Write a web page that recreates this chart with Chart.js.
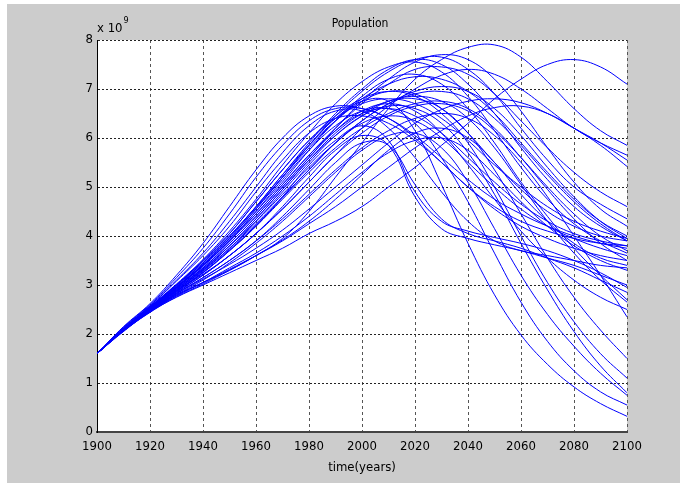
<!DOCTYPE html>
<html><head><meta charset="utf-8">
<script src="https://cdn.jsdelivr.net/npm/chart.js@4/dist/chart.umd.min.js"></script>
<style>html,body{margin:0;padding:0;background:#fff;}canvas{display:block;}</style>
</head><body>
<canvas id="c" width="680" height="483"></canvas>
<script>
// x values (years) and y tick labels (units of 10^9)
const years = [1900,1910,1920,1930,1940,1950,1960,1970,1980,1990,2000,2010,2020,2030,2040,2050,2060,2070,2080,2090,2100];
const xTicks = [1900,1920,1940,1960,1980,2000,2020,2040,2060,2080,2100];
const yTicks = [0,1,2,3,4,5,6,7,8];

// simulated population runs (x 10^9), one value per decade
const runE1 = [1.6,2.15,2.62,3.2,3.85,4.6,5.35,6.0,6.45,6.65,6.6,6.4,6.05,5.6,5.15,4.75,4.45,4.2,4.0,3.85,3.75];
const runE2 = [1.6,2.14,2.6,3.15,3.75,4.45,5.2,5.85,6.35,6.6,6.6,6.4,6.0,5.5,5.0,4.55,4.2,3.95,3.75,3.6,3.5];
const runE3 = [1.6,2.13,2.58,3.1,3.65,4.3,5.0,5.7,6.25,6.55,6.55,6.2,5.6,4.9,4.3,3.9,3.7,3.6,3.5,3.4,3.35];
const runE4 = [1.6,2.12,2.57,3.08,3.6,4.2,4.9,5.55,6.1,6.4,6.45,6.3,5.95,5.5,5.0,4.6,4.3,4.1,3.95,3.85,3.8];
const runM1 = [1.6,2.1,2.55,3.0,3.5,4.05,4.7,5.35,5.95,6.4,6.7,6.8,6.7,6.4,5.95,5.45,5.0,4.6,4.3,4.1,3.95];
const runM2 = [1.6,2.1,2.54,2.98,3.45,4.0,4.6,5.25,5.85,6.35,6.75,6.95,6.9,6.6,6.1,5.5,4.95,4.5,4.2,4.0,3.9];
const runM3 = [1.6,2.1,2.53,2.95,3.4,3.9,4.45,5.05,5.65,6.15,6.5,6.6,6.45,6.1,5.6,5.1,4.65,4.3,4.05,3.9,3.8];
const runM4 = [1.6,2.09,2.52,2.93,3.35,3.85,4.4,5.0,5.6,6.15,6.55,6.7,6.55,6.1,5.45,4.75,4.1,3.55,3.1,2.75,2.5];
const runM5 = [1.6,2.09,2.51,2.92,3.33,3.8,4.3,4.85,5.4,5.9,6.3,6.45,6.35,6.0,5.5,5.0,4.55,4.2,3.95,3.75,3.6];
const runM6 = [1.6,2.1,2.53,2.96,3.42,3.95,4.55,5.2,5.85,6.4,6.75,6.75,6.15,5.05,3.85,2.8,1.98,1.38,0.92,0.58,0.32];
const runM7 = [1.6,2.1,2.52,2.94,3.38,3.9,4.5,5.15,5.75,6.25,6.55,6.6,6.3,5.6,4.7,3.65,2.65,1.85,1.25,0.82,0.55];
const runM8 = [1.6,2.09,2.5,2.9,3.3,3.75,4.3,4.9,5.5,6.05,6.45,6.65,6.6,6.3,5.7,4.85,3.85,2.9,2.05,1.35,0.8];
const runM9 = [1.6,2.1,2.55,3.0,3.5,4.05,4.7,5.35,5.95,6.45,6.8,6.95,6.85,6.5,5.9,5.0,4.0,3.05,2.25,1.6,1.1];
const runM10 = [1.6,2.08,2.5,2.9,3.32,3.8,4.35,4.95,5.55,6.1,6.5,6.75,6.8,6.6,6.1,5.35,4.45,3.55,2.75,2.08,1.5];
const runD1 = [1.6,2.08,2.48,2.85,3.2,3.6,4.05,4.6,5.2,5.75,6.05,5.85,4.8,4.15,3.95,3.82,3.7,3.55,3.4,3.2,3.0];
const runD2 = [1.6,2.08,2.47,2.83,3.15,3.5,3.9,4.4,4.95,5.5,5.9,5.85,5.05,4.35,4.05,3.9,3.75,3.55,3.35,3.1,2.85];
const runD3 = [1.6,2.09,2.5,2.88,3.25,3.7,4.2,4.8,5.45,5.95,6.25,5.95,4.9,4.3,4.1,3.97,3.85,3.7,3.5,3.25,2.95];
const runH1 = [1.6,2.1,2.55,3.0,3.48,4.0,4.6,5.25,5.9,6.5,7.0,7.4,7.6,7.5,7.1,6.5,5.8,5.15,4.6,4.2,3.9];
const runH2 = [1.6,2.09,2.53,2.97,3.42,3.95,4.55,5.2,5.85,6.45,6.95,7.35,7.6,7.65,7.4,6.9,6.2,5.55,5.0,4.65,4.35];
const runH3 = [1.6,2.1,2.56,3.02,3.52,4.1,4.75,5.45,6.1,6.7,7.15,7.45,7.55,7.35,6.85,6.15,5.4,4.75,4.25,3.9,3.65];
const runH4 = [1.6,2.08,2.5,2.92,3.35,3.85,4.4,5.0,5.6,6.2,6.75,7.2,7.55,7.7,7.6,7.2,6.55,5.8,5.1,4.55,4.2];
const runH5 = [1.6,2.09,2.52,2.95,3.4,3.92,4.5,5.1,5.75,6.35,6.85,7.2,7.3,7.1,6.6,5.9,5.1,4.4,3.75,3.2,2.7];
const runH6 = [1.6,2.1,2.55,3.0,3.45,3.98,4.58,5.2,5.8,6.35,6.8,7.1,7.25,7.2,6.95,6.5,5.9,5.3,4.75,4.3,4.0];
const runH7 = [1.6,2.09,2.52,2.95,3.4,3.9,4.45,5.05,5.65,6.2,6.7,7.1,7.4,7.45,7.3,6.9,6.35,5.8,5.3,4.9,4.6];
const runN1 = [1.6,2.08,2.49,2.88,3.28,3.75,4.25,4.8,5.35,5.9,6.35,6.7,6.9,6.95,6.8,6.4,5.85,5.25,4.7,4.25,3.9];
const runN2 = [1.6,2.07,2.48,2.86,3.25,3.7,4.2,4.75,5.3,5.8,6.2,6.5,6.7,6.75,6.6,6.2,5.6,4.95,4.35,3.85,3.5];
const runN3 = [1.6,2.08,2.5,2.9,3.3,3.8,4.35,4.95,5.55,6.05,6.45,6.75,6.85,6.75,6.4,5.8,5.05,4.3,3.65,3.1,2.65];
const runN4 = [1.6,2.07,2.47,2.84,3.2,3.6,4.05,4.55,5.1,5.65,6.1,6.45,6.65,6.7,6.55,6.15,5.6,5.0,4.45,4.0,3.7];
const runN5 = [1.6,2.08,2.49,2.87,3.26,3.72,4.22,4.78,5.35,5.9,6.35,6.7,6.95,7.05,6.95,6.6,6.05,5.4,4.8,4.3,3.95];
const runN6 = [1.6,2.07,2.46,2.82,3.15,3.5,3.9,4.35,4.85,5.35,5.8,6.15,6.4,6.5,6.4,6.05,5.5,4.8,4.0,3.2,2.35];
const runS1 = [1.6,2.06,2.45,2.78,3.05,3.35,3.65,4.0,4.4,4.85,5.3,5.7,5.95,6.0,5.75,5.25,4.7,4.2,3.8,3.5,3.3];
const runS2 = [1.6,2.06,2.44,2.76,3.02,3.3,3.6,3.92,4.3,4.75,5.25,5.75,6.1,6.2,6.0,5.5,4.85,4.3,3.85,3.55,3.4];
const runS3 = [1.6,2.07,2.46,2.8,3.1,3.45,3.85,4.3,4.8,5.3,5.75,6.05,6.1,5.8,5.1,4.15,3.2,2.4,1.75,1.2,0.75];
const runL1 = [1.6,2.05,2.45,2.75,3.0,3.25,3.5,3.75,4.05,4.3,4.6,5.0,5.4,5.85,6.3,6.8,7.2,7.5,7.6,7.45,7.1];
const runL2 = [1.6,2.07,2.48,2.8,3.05,3.3,3.6,3.95,4.5,5.2,5.9,6.6,7.2,7.6,7.85,7.9,7.65,7.15,6.6,6.15,5.85];
const runL3 = [1.6,2.06,2.46,2.78,3.05,3.32,3.6,3.9,4.25,4.6,5.0,5.4,5.8,6.15,6.45,6.62,6.65,6.5,6.2,5.85,5.42];
const runL4 = [1.6,2.07,2.48,2.82,3.12,3.42,3.75,4.12,4.55,5.0,5.45,5.9,6.3,6.58,6.75,6.8,6.72,6.5,6.2,5.9,5.55];
const runL5 = [1.6,2.08,2.5,2.88,3.22,3.6,4.05,4.55,5.1,5.65,6.2,6.65,7.0,7.28,7.4,7.3,7.0,6.6,6.2,5.9,5.65];

const runs = [runE1,runE2,runE3,runE4,runM1,runM2,runM3,runM4,runM5,runM6,runM7,runM8,runM9,runM10,
  runD1,runD2,runD3,runH1,runH2,runH3,runH4,runH5,runH6,runH7,runN1,runN2,runN3,runN4,runN5,runN6,
  runS1,runS2,runS3,runL1,runL2,runL3,runL4,runL5];

const FONT = "'Liberation Sans Narrow','Arial Narrow','DejaVu Sans Condensed','Liberation Sans',sans-serif";

const framePlugin = {
  id: 'frame',
  beforeDraw(chart) {
    const {ctx, chartArea: a} = chart;
    ctx.save();
    ctx.fillStyle = '#ffffff';
    ctx.fillRect(0, 0, chart.width, chart.height);
    ctx.fillStyle = '#cccccc';
    ctx.fillRect(7, 4, chart.width - 7, chart.height - 4);
    ctx.fillStyle = '#ffffff';
    ctx.fillRect(a.left, a.top, a.right - a.left, a.bottom - a.top);
    ctx.restore();
  },
  afterDraw(chart) {
    const {ctx, chartArea: a} = chart;
    ctx.save();
    ctx.fillStyle = '#000';
    ctx.textBaseline = 'alphabetic';
    ctx.font = '12px ' + FONT;
    ctx.textAlign = 'center';
    ctx.fillText('Population', (a.left + a.right) / 2 - 2, 27);
    ctx.textAlign = 'left';
    ctx.font = '13px ' + FONT;
    ctx.fillText('x 10', a.left, 32);
    const w = ctx.measureText('x 10').width;
    ctx.font = '9px ' + FONT;
    ctx.fillText('9', a.left + w + 1, 23);
    ctx.restore();
  }
};

new Chart(document.getElementById('c'), {
  type: 'line',
  data: {
    datasets: runs.map(r => ({
      data: r.map((v, i) => ({x: years[i], y: v})),
      borderColor: '#0000ff',
      borderWidth: 1,
      pointRadius: 0,
      fill: false,
      tension: 0.4
    }))
  },
  options: {
    responsive: false,
    animation: false,
    events: [],
    layout: {padding: {left: 0, right: 53, top: 40, bottom: 0}},
    plugins: {legend: {display: false}, tooltip: {enabled: false}, title: {display: false}},
    scales: {
      x: {
        type: 'linear', min: 1900, max: 2100,
        afterFit(s) { s.height = 51; },
        afterBuildTicks(s) { s.ticks = xTicks.map(v => ({value: v})); },
        ticks: {color: '#000', font: {family: FONT, size: 13}, padding: 7, maxRotation: 0, autoSkip: false, callback: v => String(v)},
        grid: {color: '#555555', lineWidth: 1, drawTicks: false},
        border: {color: '#444444', width: 2, dash: [3, 3]},
        title: {display: true, text: 'time(years)', color: '#000', font: {family: FONT, size: 13}, padding: {top: 0, bottom: 8}}
      },
      y: {
        min: 0, max: 8,
        afterFit(s) { s.width = 97; },
        afterBuildTicks(s) { s.ticks = yTicks.map(v => ({value: v})); },
        ticks: {color: '#000', font: {family: FONT, size: 13}, padding: 4},
        grid: {color: '#222222', lineWidth: 1, drawTicks: false},
        border: {color: '#000000', width: 1, dash: [2, 2]}
      }
    }
  },
  plugins: [framePlugin]
});
</script>
</body></html>
